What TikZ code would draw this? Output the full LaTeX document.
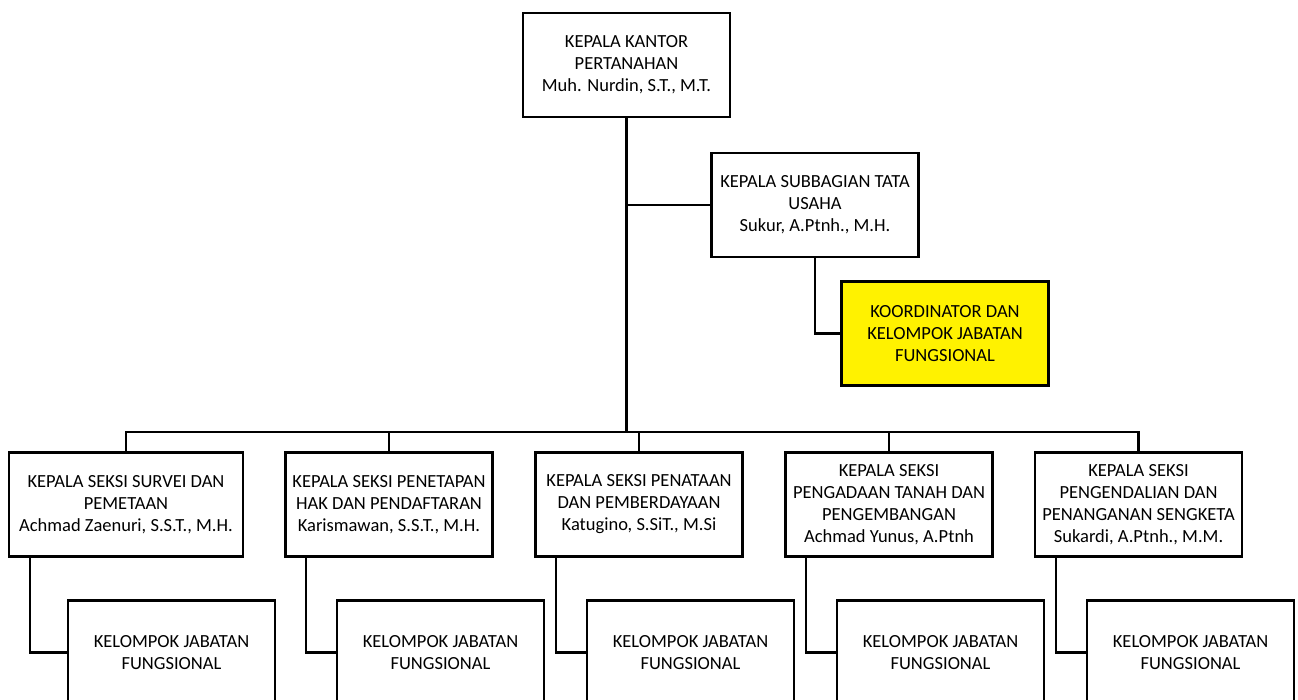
\documentclass[tikz,border=0pt]{standalone}
\usepackage{fontspec}
\setmainfont{Carlito}
\usetikzlibrary{positioning}
\begin{document}
\begin{tikzpicture}[
    x=1pt, y=-1pt,
    font=\fontsize{18.5}{22}\selectfont,
    unit/.style={draw, line width=2.5pt, align=center, minimum width=207pt, minimum height=104pt, inner sep=2pt},
    wideunit/.style={unit, minimum width=234pt},
    koord/.style={unit, fill=yellow},
    link/.style={line width=2.2pt},
    trunk/.style={line width=3.5pt}
  ]
    \useasboundingbox (0,0) rectangle (1298,699);

    \node[unit] (kakantah) at (626.5,65) {KEPALA KANTOR\\PERTANAHAN\\Muh. Nurdin, S.T., M.T.};
    \node[unit] (subbag) at (815,205) {KEPALA SUBBAGIAN TATA\\USAHA\\Sukur, A.Ptnh., M.H.};
    \node[koord] (koord) at (945,333.5) {KOORDINATOR DAN\\KELOMPOK JABATAN\\FUNGSIONAL};

    \node[wideunit] (survei) at (126,504.5) {KEPALA SEKSI SURVEI DAN\\PEMETAAN\\Achmad Zaenuri, S.S.T., M.H.};
    \node[unit] (penetapan) at (389,504.5) {KEPALA SEKSI PENETAPAN\\HAK DAN PENDAFTARAN\\Karismawan, S.S.T., M.H.};
    \node[unit] (penataan) at (639,504.5) {KEPALA SEKSI PENATAAN\\DAN PEMBERDAYAAN\\Katugino, S.SiT., M.Si};
    \node[unit] (pengadaan) at (889,504.5) {KEPALA SEKSI\\PENGADAAN TANAH DAN\\PENGEMBANGAN\\Achmad Yunus, A.Ptnh};
    \node[unit] (sengketa) at (1138.5,504.5) {KEPALA SEKSI\\PENGENDALIAN DAN\\PENANGANAN SENGKETA\\Sukardi, A.Ptnh., M.M.};

    \node[unit] (kjf1) at (171.5,652.5) {KELOMPOK JABATAN\\FUNGSIONAL};
    \node[unit] (kjf2) at (440.5,652.5) {KELOMPOK JABATAN\\FUNGSIONAL};
    \node[unit] (kjf3) at (690.5,652.5) {KELOMPOK JABATAN\\FUNGSIONAL};
    \node[unit] (kjf4) at (940.5,652.5) {KELOMPOK JABATAN\\FUNGSIONAL};
    \node[unit] (kjf5) at (1190.5,652.5) {KELOMPOK JABATAN\\FUNGSIONAL};

    \coordinate (bus) at (626,432);

    \draw[trunk] (kakantah.south) -- (kakantah.south |- bus);
    \draw[link] (kakantah.south |- subbag.west) -- (subbag.west);
    \draw[link] (subbag.south) |- (koord.west);
    \draw[link] (survei.north) |- (bus) -| (sengketa.north);
    \foreach \s in {penetapan,penataan,pengadaan}
      \draw[link] (\s.north) -- (\s.north |- bus);
    \foreach \s/\k in {survei/kjf1,penetapan/kjf2,penataan/kjf3,pengadaan/kjf4,sengketa/kjf5}
      \draw[link] ([xshift=22pt]\s.south west) |- (\k.west);

  \end{tikzpicture}
\end{document}
